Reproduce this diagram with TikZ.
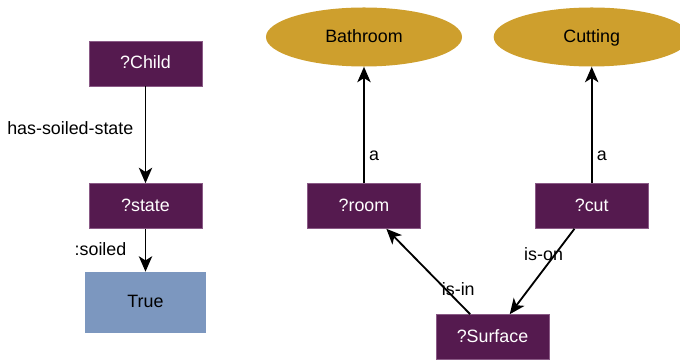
\documentclass[tikz,border=0pt]{standalone}
\usepackage{fontspec}
\setmainfont{Liberation Sans}
\usepackage{tikz}
\usetikzlibrary{arrows.meta,shapes.geometric}
\definecolor{varfill}{HTML}{551A4F}
\definecolor{varline}{HTML}{8A5A86}
\definecolor{litfill}{HTML}{7C97BF}
\definecolor{classfill}{HTML}{CE9F2D}

\begin{document}
\begin{tikzpicture}[
  x=0.025cm,y=-0.025cm,
  font=\fontsize{12.7}{15}\selectfont,
  every node/.style={text height=0.72em,text depth=0pt},
  var/.style={draw=varline,line width=0.4pt,fill=varfill,text=white,
              minimum width=2.825cm,minimum height=1.125cm,inner sep=0pt},
  lit/.style={fill=litfill,minimum width=3.025cm,minimum height=1.525cm,inner sep=0pt},
  cls/.style={ellipse,fill=classfill,minimum width=4.9cm,minimum height=1.475cm,inner sep=0pt},
  arr/.style={-{Stealth[length=11pt,width=9.5pt,inset=3pt]},line width=1.3pt},
  lbl/.style={inner sep=0pt}
]
  \useasboundingbox (0,0) rectangle (680,360);
  % left graph
  \node[var] (child) at (145.5,63.5)  {?Child};
  \node[var] (state) at (145.5,206)   {?state};
  \node[lit] (true)  at (145.5,302.5) {True};
  \draw[arr] (child) -- node[lbl,pos=0.45,left=8pt] {has-soiled-state} (state);
  \draw[arr] (state) -- node[lbl,pos=0.5,left=13pt] {:soiled} (true);
  % right graph
  \node[cls] (bathroom) at (364,37)    {Bathroom};
  \node[cls] (cutting)  at (591.7,37)  {Cutting};
  \node[var] (room)     at (364,206)   {?room};
  \node[var] (cut)      at (591.7,206) {?cut};
  \node[var] (surface)  at (492.5,337) {?Surface};
  \draw[arr] (room) -- node[lbl,pos=0.24,right=3pt] {a} (bathroom);
  \draw[arr] (cut) -- node[lbl,pos=0.24,right=3pt] {a} (cutting);
  \draw[arr] (surface) -- node[lbl,pos=0.28,xshift=0.29cm] {is-in} (room);
  \draw[arr] (cut) -- node[lbl,pos=0.31,xshift=-0.27cm] {is-on} (surface);
\end{tikzpicture}
\end{document}
